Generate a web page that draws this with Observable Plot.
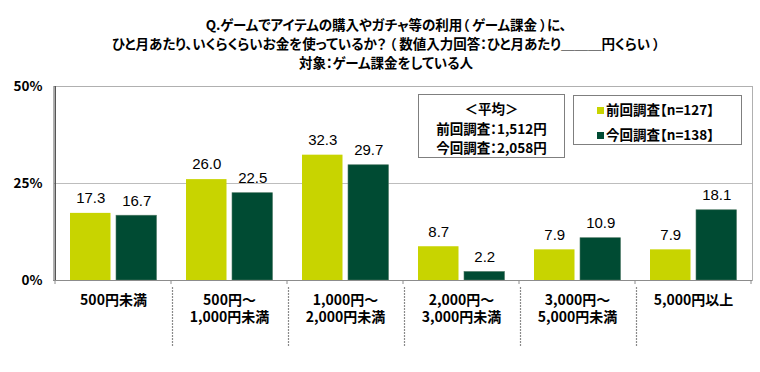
<!DOCTYPE html>
<html>
<head>
<meta charset="utf-8">
<script src="https://cdn.jsdelivr.net/npm/d3@7"></script>
<script src="https://cdn.jsdelivr.net/npm/@observablehq/plot@0.6"></script>
<style>
  body { margin: 0; background: #fff; }
  #wrap { position: relative; width: 760px; height: 372px; font-family: "Noto Sans CJK JP", sans-serif; color: #000; font-feature-settings: "palt"; }
  #title { position: absolute; left: 6px; top: 15px; width: 760px; text-align: center; font-weight: bold; font-size: 13.5px; line-height: 19px; }
  #chart { position: absolute; left: 0; top: 78px; }
  .box { position: absolute; background: #fff; border: 1px solid #7f7f7f; font-weight: bold; font-size: 13.5px; box-sizing: border-box; }
  #avg { left: 418px; top: 94px; width: 147px; height: 64px; text-align: center; line-height: 19.5px; padding-top: 4px; }
  #legend { left: 573px; top: 95px; width: 169px; height: 50px; padding: 1px 0 0 23px; line-height: 25px; }
  .sw { display: inline-block; width: 7px; height: 7px; margin-right: 2px; vertical-align: 1px; }
  svg text { font-feature-settings: "palt"; }
</style>
</head>
<body>
<div id="wrap">
  <div id="title"></div>
  <div id="chart"></div>
  <div id="avg" class="box"></div>
  <div id="legend" class="box"></div>
</div>
<script>
const titleLines = [
  "Q.ゲームでアイテムの購入やガチャ等の利用（ ゲーム課金 ）に、",
  "ひと月あたり、いくらくらいお金を使っているか？ （ 数値入力回答：ひと月あたり＿＿＿円くらい ）",
  "対象：ゲーム課金をしている人"
];
const categories = ["500円未満", "500円～1,000円未満", "1,000円～2,000円未満", "2,000円～3,000円未満", "3,000円～5,000円未満", "5,000円以上"];
const categoryLabels = ["500円未満", "500円～\n1,000円未満", "1,000円～\n2,000円未満", "2,000円～\n3,000円未満", "3,000円～\n5,000円未満", "5,000円以上"];
const seriesNames = ["前回調査【n=127】", "今回調査【n=138】"];
const prevValues = [17.3, 26.0, 32.3, 8.7, 7.9, 7.9];
const currValues = [16.7, 22.5, 29.7, 2.2, 10.9, 18.1];
const colors = ["#c8d400", "#004b33"];
const yTicks = [0, 25, 50];
const avgLines = ["＜平均＞", "前回調査：1,512円", "今回調査：2,058円"];

document.getElementById("title").innerHTML = titleLines.join("<br>");
document.getElementById("avg").innerHTML = avgLines.join("<br>");
document.getElementById("legend").innerHTML = seriesNames.map((s, i) =>
  `<div><span class="sw" style="background:${colors[i]}"></span>${s}</div>`).join("");

const prevData = categories.map((c, i) => ({cat: c, value: prevValues[i]}));
const currData = categories.map((c, i) => ({cat: c, value: currValues[i]}));

const W = 760, H = 294, ML = 53, MR = 8, MT = 8, MB = 92;
const bw = (W - ML - MR) / categories.length;
const fmt = d3.format(".1f");
const labelMap = new Map(categories.map((c, i) => [c, categoryLabels[i]]));

const plot = Plot.plot({
  width: W, height: H,
  marginLeft: ML, marginRight: MR, marginTop: MT, marginBottom: MB,
  style: {fontFamily: "'Noto Sans CJK JP', sans-serif", background: "#fff", overflow: "visible"},
  x: {domain: categories, padding: 0, axis: null},
  y: {domain: [0, 50], axis: null},
  marks: [
    Plot.gridY([25], {stroke: "#bdbdbd", strokeOpacity: 1}),
    Plot.frame({stroke: "#b0b0b0"}),
    Plot.barY(prevData, {x: "cat", y: "value", fill: colors[0], insetLeft: 15, insetRight: bw - 56}),
    Plot.barY(currData, {x: "cat", y: "value", fill: colors[1], stroke: "#4f7a66", strokeWidth: 0.6, insetLeft: 61, insetRight: bw - 102}),
    Plot.text(prevData, {x: "cat", y: "value", text: d => fmt(d.value), dx: 35.5 - bw / 2, dy: -15, fontSize: 15, fontFamily: "'Liberation Sans', Arial, sans-serif", fill: "#000"}),
    Plot.text(currData, {x: "cat", y: "value", text: d => fmt(d.value), dx: 81.5 - bw / 2, dy: -15, fontSize: 15, fontFamily: "'Liberation Sans', Arial, sans-serif", fill: "#000"}),
    Plot.ruleY([0], {stroke: "#8c8c8c"}),
    Plot.axisY({ticks: yTicks, tickFormat: d => d + "%", tickSize: 0, tickPadding: 11, fontSize: 13.5, fontWeight: "bold", fill: "#000", label: null}),
    Plot.axisX({tickFormat: d => labelMap.get(d), tickSize: 0, tickPadding: 12, fontSize: 14, fontWeight: "bold", fill: "#000", lineHeight: 1.25, label: null}),
    Plot.ruleX([0], {x: () => categories[0], dx: -bw / 2, stroke: "#555", strokeWidth: 1.5, y1: 0, y2: 50})
  ]
});

document.getElementById("chart").appendChild(plot);

// category boundary ticks and dashed separators below the axis
const xs = plot.scale("x");
const ys = plot.scale("y");
const y0 = ys.apply(0);
const svg = d3.select(plot);
const bounds = categories.map(c => xs.apply(c)).concat([xs.apply(categories[categories.length - 1]) + xs.bandwidth]);
const g = svg.append("g");
bounds.forEach((bx, i) => {
  g.append("line").attr("x1", bx).attr("x2", bx).attr("y1", y0).attr("y2", y0 + 4)
    .attr("stroke", "#8c8c8c");
  if (i > 0 && i < bounds.length - 1) {
    g.append("line").attr("x1", bx + 1.5).attr("x2", bx + 1.5).attr("y1", y0 + 7).attr("y2", y0 + 67)
      .attr("stroke", "#8a8a8a").attr("stroke-width", 1.2).attr("stroke-dasharray", "2,1");
  }
});
</script>
</body>
</html>
